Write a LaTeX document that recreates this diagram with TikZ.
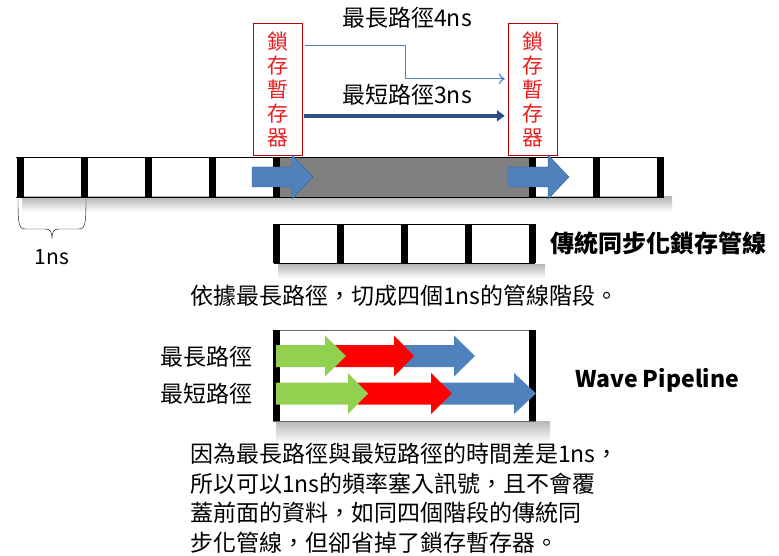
\documentclass[tikz,border=0pt]{standalone}
\usepackage{fontspec}
\setmainfont{Noto Sans CJK TC}
\usetikzlibrary{arrows.meta, positioning, calc}
\definecolor{latchred}{RGB}{192,0,0}
\definecolor{latchtext}{RGB}{235,30,30}
\definecolor{flowblue}{RGB}{79,129,189}
\definecolor{flowedge}{RGB}{56,93,138}
\definecolor{pathdark}{RGB}{44,80,134}
\definecolor{wavegreen}{RGB}{146,208,80}
\definecolor{wavered}{RGB}{255,0,0}
\definecolor{stagegray}{RGB}{128,128,128}
\tikzset{
    latch/.style={rectangle, draw=latchred, thin, text=latchtext, minimum width=49pt, minimum height=132pt, inner sep=0pt, align=center, font=\fontsize{21}{24}\selectfont},
    label/.style={inner sep=0pt, font=\fontsize{23}{29.5}\selectfont},
    boldlabel/.style={inner sep=0pt, font=\fontsize{23}{29.5}\selectfont\bfseries},
    stagetick/.style={line width=7pt},
    longpath/.style={-{To[length=6pt,width=11pt]}, flowblue, line width=1.2pt},
    shortpath/.style={-{Triangle[length=8pt,width=11pt]}, pathdark, line width=4pt},
    shadowband/.style={top color=black!28, bottom color=white, draw=none},
}

\begin{document}
\begin{tikzpicture}[x=1pt, y=-1pt]
    \useasboundingbox (0,0) rectangle (779,556);
    % latches and the two paths between them
    \node[latch] (latchL) at (277.5,89) {鎖\\存\\暫\\存\\器};
    \node[latch] (latchR) at (532.5,89) {鎖\\存\\暫\\存\\器};
    \node[label] (longlbl) at (407,18) {最長路徑4ns};
    \node[label] (shortlbl) at (407,95) {最短路徑3ns};
    \draw[longpath] ($(latchL.north east)+(3,23)$) -- ++(100,0) |- ($(latchR.north west)+(-3,56)$);
    \draw[shortpath] ($(latchL.north east)+(2,93)$) -- ($(latchR.north west)+(-3,93)$);

    % long bar
    \shade[shadowband] (22,197) rectangle (672,212);
    \fill[stagegray] (276.5,157) rectangle (532.5,197);
    \draw (16,157) -- (664,157) (16,197) -- (664,197);
    \foreach \k in {0,1,2,3,4,8,9,10}
        \draw[stagetick] ({20+64.05*\k},157) -- ++(0,40);
    \foreach \xa in {252,508}
        \filldraw[fill=flowblue, draw=flowedge, thin] (\xa,167) -- (\xa+40,167) -- (\xa+40,155) -- (\xa+61,177) -- (\xa+40,199) -- (\xa+40,187) -- (\xa,187) -- cycle;
    \draw (18,199) .. controls (18,226) and (19,229) .. (26,229) -- (45,229) .. controls (50,229) and (52,231) .. (52,239) .. controls (52,231) and (54,229) .. (59,229) -- (78,229) .. controls (85,229) and (86,226) .. (86,199);
    \node[label, font=\fontsize{21}{26}\selectfont] (cellns) at (52,257) {1ns};

    % synchronous pipeline
    \shade[shadowband] (278,264) rectangle (545,279);
    \draw (274,224) -- (535,224) (274,263) -- (535,263);
    \foreach \k in {0,...,4}
        \draw[stagetick] ({276.5+64.05*\k},224) -- ++(0,39);
    \node[boldlabel, anchor=west, font=\fontsize{24}{29.5}\selectfont\bfseries] (synclbl) at (550,243) {傳統同步化鎖存管線};
    \node[label, anchor=west] (cutlbl) at (190,296) {依據最長路徑，切成四個1ns的管線階段。};

    % wave pipeline
    \shade[shadowband] (276,421) rectangle (550,443);
    \draw[black!60] (273,330) -- (536,330) (273,421) -- (536,421);
    \foreach \xb in {276.5,532.5}
        \draw[stagetick, line width=6.5pt] (\xb,330) -- (\xb,421);
    \foreach \xa/\xh/\xt/\yc/\clr in {404/454/475/356/flowblue, 335/394/414/356/wavered, 276/325/346/356/wavegreen,
                                      440/514/536/393.5/flowblue, 358/431/452/393.5/wavered, 276/348/368/393.5/wavegreen}
        \fill[\clr] (\xa,\yc-11) -- (\xh,\yc-11) -- (\xh,\yc-20.5) -- (\xt,\yc) -- (\xh,\yc+20.5) -- (\xh,\yc+11) -- (\xa,\yc+11) -- cycle;
    \node[label, anchor=east] (longrow) at (253,357) {最長路徑};
    \node[label, anchor=east] (shortrow) at (253,394) {最短路徑};
    \node[boldlabel] (wavelbl) at (657,380) {Wave Pipeline};
    \node[label, anchor=north west, align=left] (notelbl) at (190,443)
        {因為最長路徑與最短路徑的時間差是1ns，\\所以可以1ns的頻率塞入訊號，且不會覆\\蓋前面的資料，如同四個階段的傳統同\\步化管線，但卻省掉了鎖存暫存器。};
\end{tikzpicture}
\end{document}
